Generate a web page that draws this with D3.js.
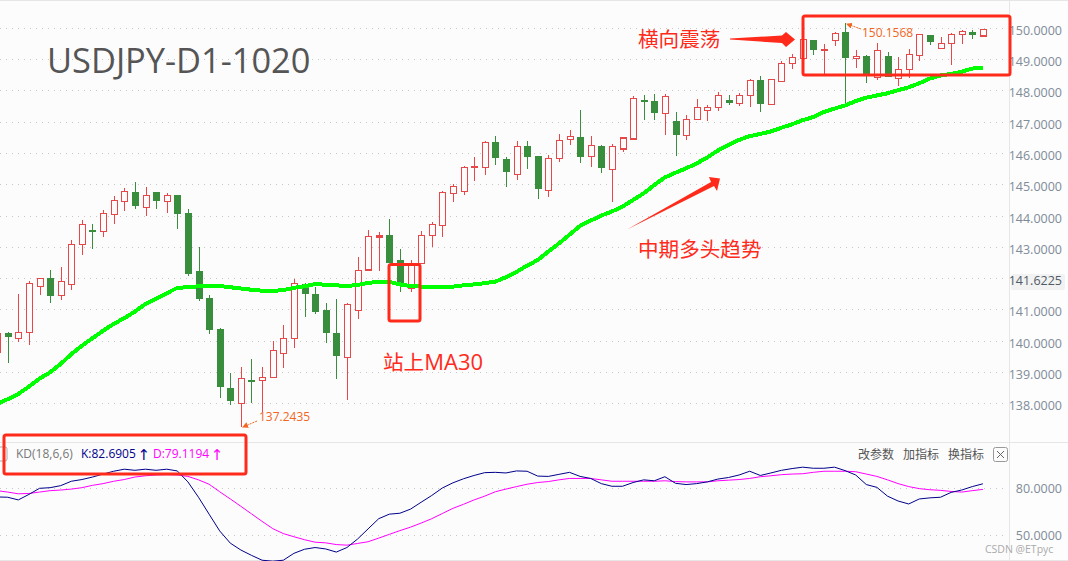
<!DOCTYPE html>
<html lang="en">
<head>
    <meta charset="UTF-8">
    <title>USDJPY-D1-1020</title>
    <script src="https://d3js.org/d3.v7.min.js"></script>
    <style>
        html, body {
            margin: 0;
            height: 100%;
            background: #fcfcfc;
        }
        svg {
            display: block;
        }
        text {
            font-family: "Open Sans", "Noto Sans", sans-serif;
        }
        .cn {
            font-family: "Noto Sans CJK SC", sans-serif;
        }
    </style>
</head>
<body>
<div class="chart"></div>

<script>

    // daily candles, left to right (the first one is cut by the left edge)
    var opens = [
        139.62, 140.22, 140.07, 140.27, 141.73, 141.97, 141.44, 141.79, 143.08, 143.53,
        143.49, 144.04, 144.46, 144.72, 144.26, 144.72, 144.46, 144.63, 144.05, 142.20,
        141.34, 140.34, 138.46, 138.00, 138.73, 138.74, 138.83, 139.60, 140.08, 141.78,
        141.46, 140.95, 140.22, 139.47, 140.97, 142.26, 143.33, 143.35, 142.55, 141.68,
        142.48, 143.37, 143.69, 144.71, 144.78, 145.54, 145.54, 146.34, 145.80, 145.32,
        146.19, 145.87, 144.81, 145.83, 146.44, 146.50, 145.88, 146.21, 145.48, 146.13,
        146.45, 147.69, 147.65, 147.26, 147.00, 146.57, 147.07, 147.36, 147.46, 147.68,
        147.58, 147.83, 148.30, 147.55, 148.28, 148.87, 149.02, 149.58, 149.28, 149.59,
        149.84, 149.02, 149.07, 148.42, 149.07, 148.39, 148.68, 149.12, 149.76, 149.34,
        149.51, 149.79, 149.86, 149.74];
    var closes = [
        140.24, 140.13, 140.27, 141.84, 142.00, 141.44, 141.90, 143.08, 143.72, 143.52,
        144.07, 144.49, 144.78, 144.32, 144.65, 144.48, 144.65, 144.06, 142.14, 141.35,
        140.36, 138.53, 138.09, 138.80, 138.72, 138.83, 139.69, 140.08, 141.84, 141.51,
        140.93, 140.26, 139.52, 141.16, 142.25, 143.34, 143.35, 142.52, 141.86, 142.48,
        143.37, 143.72, 144.74, 144.93, 145.54, 145.58, 146.34, 145.85, 145.40, 146.21,
        145.88, 144.86, 145.83, 146.40, 146.52, 145.88, 146.24, 145.53, 146.21, 146.48,
        147.74, 147.67, 147.31, 147.80, 146.60, 147.08, 147.46, 147.46, 147.84, 147.61,
        147.83, 148.32, 147.58, 148.36, 148.87, 149.05, 149.63, 149.30, 149.31, 149.83,
        149.05, 149.09, 148.53, 149.28, 148.44, 148.68, 149.15, 149.79, 149.56, 149.51,
        149.78, 149.89, 149.78, 149.95];
    var highs = [
        140.30, 140.27, 141.50, 141.91, 142.00, 142.26, 142.35, 143.22, 143.85, 143.73,
        144.17, 144.62, 144.88, 145.07, 144.90, 144.72, 144.71, 144.66, 144.20, 142.99,
        141.45, 140.40, 138.97, 139.16, 139.42, 139.16, 139.99, 140.50, 141.97, 141.84,
        141.73, 141.21, 141.33, 141.20, 142.68, 143.54, 143.47, 143.89, 142.92, 142.57,
        143.51, 143.78, 144.80, 145.01, 145.60, 145.87, 146.40, 146.54, 145.88, 146.37,
        146.38, 145.87, 145.93, 146.61, 146.74, 147.38, 146.54, 146.26, 146.29, 146.51,
        147.81, 147.85, 147.88, 147.88, 147.30, 147.21, 147.73, 147.55, 147.94, 147.84,
        147.91, 148.36, 148.46, 148.38, 148.95, 149.15, 149.69, 149.60, 149.47, 149.86,
        150.1568, 149.29, 149.12, 149.52, 149.23, 149.07, 149.31, 149.82, 149.78, 149.72,
        149.83, 149.93, 149.92, 149.95];
    var lows = [
        139.32, 139.30, 139.97, 139.87, 141.46, 141.22, 141.31, 141.63, 142.75, 142.94,
        143.30, 143.74, 144.15, 144.22, 143.99, 144.22, 144.09, 143.58, 142.08, 141.28,
        140.20, 138.18, 137.96, 137.2435, 138.02, 137.73, 138.80, 139.14, 139.78, 140.77,
        140.87, 139.94, 138.78, 138.09, 140.71, 142.24, 142.24, 142.48, 141.57, 141.55,
        142.45, 143.01, 143.30, 144.45, 144.67, 145.12, 145.31, 145.63, 144.91, 145.14,
        145.49, 144.54, 144.60, 145.71, 146.26, 145.69, 145.56, 145.37, 144.45, 146.03,
        146.41, 147.04, 147.04, 146.59, 145.92, 146.43, 147.05, 147.03, 147.35, 147.54,
        147.51, 147.48, 147.32, 147.52, 148.26, 148.69, 149.00, 149.13, 148.53, 149.42,
        147.59, 148.73, 148.25, 148.33, 148.42, 148.14, 148.40, 148.94, 149.45, 149.33,
        148.81, 149.50, 149.66, 149.74];
    var ma30 = [
        137.98, 138.13, 138.30, 138.53, 138.79, 138.99, 139.26, 139.57, 139.84, 140.08,
        140.32, 140.54, 140.72, 140.93, 141.18, 141.35, 141.52, 141.69, 141.71, 141.74,
        141.76, 141.75, 141.71, 141.67, 141.63, 141.60, 141.59, 141.62, 141.69, 141.74,
        141.81, 141.79, 141.77, 141.75, 141.78, 141.85, 141.88, 141.88, 141.80, 141.75,
        141.73, 141.72, 141.72, 141.73, 141.77, 141.80, 141.84, 141.89, 142.03, 142.20,
        142.40, 142.58, 142.85, 143.11, 143.39, 143.67, 143.84, 144.00, 144.13, 144.29,
        144.50, 144.71, 144.98, 145.22, 145.37, 145.51, 145.67, 145.86, 146.08, 146.26,
        146.42, 146.54, 146.61, 146.69, 146.81, 146.92, 147.05, 147.15, 147.31, 147.42,
        147.52, 147.66, 147.77, 147.84, 147.91, 148.01, 148.10, 148.23, 148.38, 148.48,
        148.53, 148.60, 148.70, 148.73];
    var kLine = [
        74.3, 74.1, 72.4, 75.9, 79.8, 80.2, 81.5, 84.3, 85.4, 87.0,
        88.9, 90.7, 92.0, 91.3, 92.0, 91.3, 92.0, 90.9, 83.9, 74.1,
        63.3, 52.6, 44.8, 40.4, 37.0, 33.9, 33.3, 33.9, 38.3, 40.9,
        42.0, 41.1, 39.1, 42.0, 47.4, 53.9, 60.4, 63.3, 63.9, 66.5,
        70.9, 75.2, 80.0, 83.3, 85.9, 88.0, 89.8, 90.0, 89.6, 90.9,
        90.7, 87.6, 87.4, 88.7, 90.0, 87.4, 86.1, 82.8, 81.1, 81.1,
        83.5, 85.2, 84.6, 87.2, 83.0, 82.2, 82.8, 83.9, 85.7, 86.7,
        88.3, 90.7, 88.0, 89.6, 91.3, 92.4, 93.3, 92.6, 92.6, 93.3,
        91.1, 88.3, 82.2, 80.4, 74.8, 71.7, 69.8, 73.0, 73.7, 74.1,
        77.2, 78.7, 80.9, 82.69];
    var dLine = [
        78.3, 77.4, 76.3, 76.5, 77.4, 78.3, 78.7, 79.3, 80.2, 81.7,
        82.8, 84.3, 85.4, 87.0, 87.8, 88.3, 88.5, 88.3, 87.4, 85.2,
        82.4, 77.6, 73.0, 68.3, 63.5, 58.7, 54.1, 50.9, 48.9, 47.0,
        45.4, 45.0, 43.9, 43.5, 44.6, 45.7, 48.0, 50.4, 52.8, 55.0,
        57.6, 60.4, 63.7, 67.0, 69.6, 72.4, 74.8, 77.6, 79.3, 80.9,
        82.4, 83.5, 84.1, 85.2, 86.1, 86.1, 86.1, 85.2, 84.3, 84.3,
        84.3, 84.3, 84.3, 84.6, 84.1, 83.9, 83.9, 83.9, 84.6, 85.0,
        85.4, 86.1, 87.2, 87.8, 88.5, 88.9, 89.1, 90.0, 90.7, 90.7,
        90.7, 90.4, 88.9, 87.4, 85.2, 82.8, 80.9, 79.6, 78.9, 78.5,
        77.8, 77.4, 78.3, 79.12];

    var priceTicks = [138, 139, 140, 141, 142, 143, 144, 145, 146, 147, 148, 149, 150];
    var kdTicks = [50, 80];
    var lastPrice = 141.6225;
    var lowLabel = "137.2435";
    var highLabel = "150.1568";

    var width = 1068;
    var height = 561;
    var plotRight = 1009;
    var gridRight = 1006;

    var x = d3.scaleLinear().domain([0, opens.length - 1]).range([-2.9, 982.9]);
    var y = d3.scaleLinear().domain([138, 150]).range([403.3, 27.9]);
    var yKd = d3.scaleLinear().domain([50, 80]).range([535, 488]);

    var svg = d3.select(".chart").append("svg").attr("width", width).attr("height", height);

    // panel frames
    var frame = svg.append("g").attr("stroke", "#e6e6e6").attr("stroke-width", 1);
    frame.append("rect").attr("x", plotRight).attr("y", 0).attr("width", width - plotRight).attr("height", height)
        .attr("fill", "#fdfdfd").attr("stroke", "none");
    frame.append("line").attr("x1", 0).attr("x2", width).attr("y1", 0.5).attr("y2", 0.5);
    frame.append("line").attr("x1", 0).attr("x2", width).attr("y1", 442.5).attr("y2", 442.5);
    frame.append("line").attr("x1", 0).attr("x2", width).attr("y1", 560.5).attr("y2", 560.5);
    frame.append("line").attr("x1", plotRight + 0.5).attr("x2", plotRight + 0.5).attr("y1", 0).attr("y2", height);

    // dotted grid
    var grid = svg.append("g").attr("stroke", "#c8c8c8").attr("stroke-dasharray", "1 5");
    grid.selectAll("line.p").data(priceTicks).enter().append("line").attr("class", "p")
        .attr("x1", 0).attr("x2", gridRight)
        .attr("y1", function (d) { return Math.round(y(d)) + 0.5; })
        .attr("y2", function (d) { return Math.round(y(d)) + 0.5; });
    grid.selectAll("line.k").data(kdTicks).enter().append("line").attr("class", "k")
        .attr("x1", 0).attr("x2", gridRight)
        .attr("y1", function (d) { return Math.round(yKd(d)) + 0.5; })
        .attr("y2", function (d) { return Math.round(yKd(d)) + 0.5; });

    // price axes on the right, the live price takes the place of the 142 label
    var yAxis = d3.axisRight(y).tickValues(priceTicks).tickSize(0).tickFormat(function (d) {
        return d === 142 ? d3.format(".4f")(lastPrice) : d3.format(".4f")(d);
    });
    var kdAxis = d3.axisRight(yKd).tickValues(kdTicks).tickSize(0).tickFormat(d3.format(".4f"));
    svg.append("rect").attr("x", 1011).attr("y", 274).attr("width", 54).attr("height", 16).attr("rx", 2)
        .attr("fill", "#f2f2f2");
    [[yAxis, 2.5], [kdAxis, 0]].forEach(function (a) {
        var g = svg.append("g").attr("transform", "translate(1062," + a[1] + ")").call(a[0]);
        g.select(".domain").remove();
        g.selectAll("text").attr("x", 0).attr("text-anchor", "end")
            .style("font-size", "12.5px").attr("fill", "#7f8c99");
    });
    svg.selectAll(".tick text").filter(function (d) { return d === 142; }).attr("fill", "#4f5b66");

    // candles
    var upColor = "#e8474a";
    var downColor = "#388e3c";
    var candles = svg.append("g").selectAll("g").data(opens).enter().append("g")
        .attr("transform", function (d, i) { return "translate(" + (Math.round(x(i)) + 0.5) + ",0)"; })
        .attr("stroke", function (d, i) { return closes[i] >= opens[i] ? upColor : downColor; })
        .attr("stroke-width", 1.3)
        .attr("shape-rendering", "crispEdges");
    candles.append("line")
        .attr("y1", function (d, i) { return y(highs[i]); })
        .attr("y2", function (d, i) { return y(lows[i]); });
    candles.append("rect")
        .attr("x", -3).attr("width", 6)
        .attr("y", function (d, i) { return y(Math.max(opens[i], closes[i])); })
        .attr("height", function (d, i) { return Math.max(1, Math.abs(y(opens[i]) - y(closes[i]))); })
        .attr("fill", function (d, i) { return closes[i] >= opens[i] ? "#fcfcfc" : downColor; });

    // MA30
    var maLine = d3.line().x(function (d, i) { return x(i); }).y(function (d) { return y(d); });
    svg.append("path").attr("d", maLine(ma30)).attr("fill", "none").attr("stroke", "#00ff00")
        .attr("stroke-width", 4).attr("shape-rendering", "crispEdges");

    // KD panel
    var kdPath = d3.line().x(function (d, i) { return x(i); }).y(function (d) { return yKd(d); });
    svg.append("path").attr("d", kdPath(dLine)).attr("fill", "none").attr("stroke", "#ff00ff").attr("stroke-width", 1);
    svg.append("path").attr("d", kdPath(kLine)).attr("fill", "none").attr("stroke", "#00008b").attr("stroke-width", 1);

    // low / high marks
    var markColor = "#f2661f";
    svg.append("defs").append("marker").attr("id", "tip").attr("viewBox", "0 0 6 6").attr("refX", 5).attr("refY", 3)
        .attr("markerWidth", 6).attr("markerHeight", 6).attr("orient", "auto")
        .append("path").attr("d", "M0,0L6,3L0,6z").attr("fill", markColor);
    svg.append("line").attr("x1", 257).attr("y1", 421).attr("x2", 243).attr("y2", 427)
        .attr("stroke", markColor).attr("stroke-dasharray", "2 1").attr("marker-end", "url(#tip)");
    svg.append("text").attr("x", 259).attr("y", 421).style("font-size", "12px").attr("fill", markColor).text(lowLabel);
    svg.append("line").attr("x1", 861).attr("y1", 29).attr("x2", 847).attr("y2", 24)
        .attr("stroke", markColor).attr("stroke-dasharray", "2 1").attr("marker-end", "url(#tip)");
    svg.append("text").attr("x", 862).attr("y", 37).style("font-size", "12px").attr("fill", markColor).text(highLabel);

    // KD legend and buttons
    svg.append("rect").attr("x", -6).attr("y", 447).attr("width", 13).attr("height", 14).attr("rx", 2)
        .attr("fill", "none").attr("stroke", "#aaa");
    svg.append("text").attr("x", 16).attr("y", 458).style("font-size", "12px").attr("fill", "#777").text("KD(18,6,6)");
    svg.append("text").attr("x", 81).attr("y", 458).style("font-size", "12px").attr("fill", "#00008b").text("K:82.6905");
    svg.append("text").attr("x", 143.7).attr("y", 460).attr("text-anchor", "middle")
        .style("font-family", "DejaVu Sans").style("font-size", "15px").attr("fill", "#00008b").text("↑");
    svg.append("text").attr("x", 153).attr("y", 458).style("font-size", "12px").attr("fill", "#ff00ff").text("D:79.1194");
    svg.append("text").attr("x", 217).attr("y", 460).attr("text-anchor", "middle")
        .style("font-family", "DejaVu Sans").style("font-size", "15px").attr("fill", "#ff00ff").text("↑");
    [["改参数", 858], ["加指标", 903], ["换指标", 948]].forEach(function (b) {
        svg.append("text").attr("class", "cn").attr("x", b[1]).attr("y", 459)
            .style("font-size", "12px").attr("fill", "#555").text(b[0]);
    });
    svg.append("rect").attr("x", 993.5).attr("y", 447.5).attr("width", 14).attr("height", 14).attr("rx", 2)
        .attr("fill", "none").attr("stroke", "#999");
    svg.append("path").attr("d", "M997,451L1004,458M1004,451L997,458").attr("stroke", "#666");

    // title and hand drawn notes
    svg.append("text").attr("x", 47).attr("y", 73).style("font-size", "34.4px").attr("fill", "#555").text("USDJPY-D1-1020");

    var noteColor = "#ff2a1a";
    [["横向震荡", 638, 47], ["中期多头趋势", 638, 257]].forEach(function (n) {
        svg.append("text").attr("class", "cn").attr("x", n[1]).attr("y", n[2])
            .style("font-size", "20.6px").attr("fill", noteColor).text(n[0]);
    });
    var maNote = svg.append("text").attr("x", 383).attr("y", 370).attr("fill", noteColor);
    maNote.append("tspan").attr("class", "cn").style("font-size", "20.6px").text("站上");
    maNote.append("tspan").style("font-size", "22px").text("MA30");
    svg.append("path").attr("d", "M730,38.5L782,35.5L786,32L795,39.5L786,47L782,43L730,39.5Z").attr("fill", noteColor);
    svg.append("path").attr("d", "M627,229.5L711,182L709,177L720,178.5L717,191L714,186Z").attr("fill", noteColor);

    var boxes = [[803, 16, 207, 59], [389, 264.5, 31, 56.5], [4, 435, 242, 39]];
    svg.selectAll("rect.note").data(boxes).enter().append("rect").attr("class", "note")
        .attr("x", function (d) { return d[0]; }).attr("y", function (d) { return d[1]; })
        .attr("width", function (d) { return d[2]; }).attr("height", function (d) { return d[3]; })
        .attr("rx", 2).attr("fill", "none").attr("stroke", noteColor).attr("stroke-width", 3);

    svg.append("text").attr("x", 985).attr("y", 553).style("font-size", "10.5px")
        .attr("fill", "#aaa").text("CSDN @ETpyc");

</script>
</body>
</html>
